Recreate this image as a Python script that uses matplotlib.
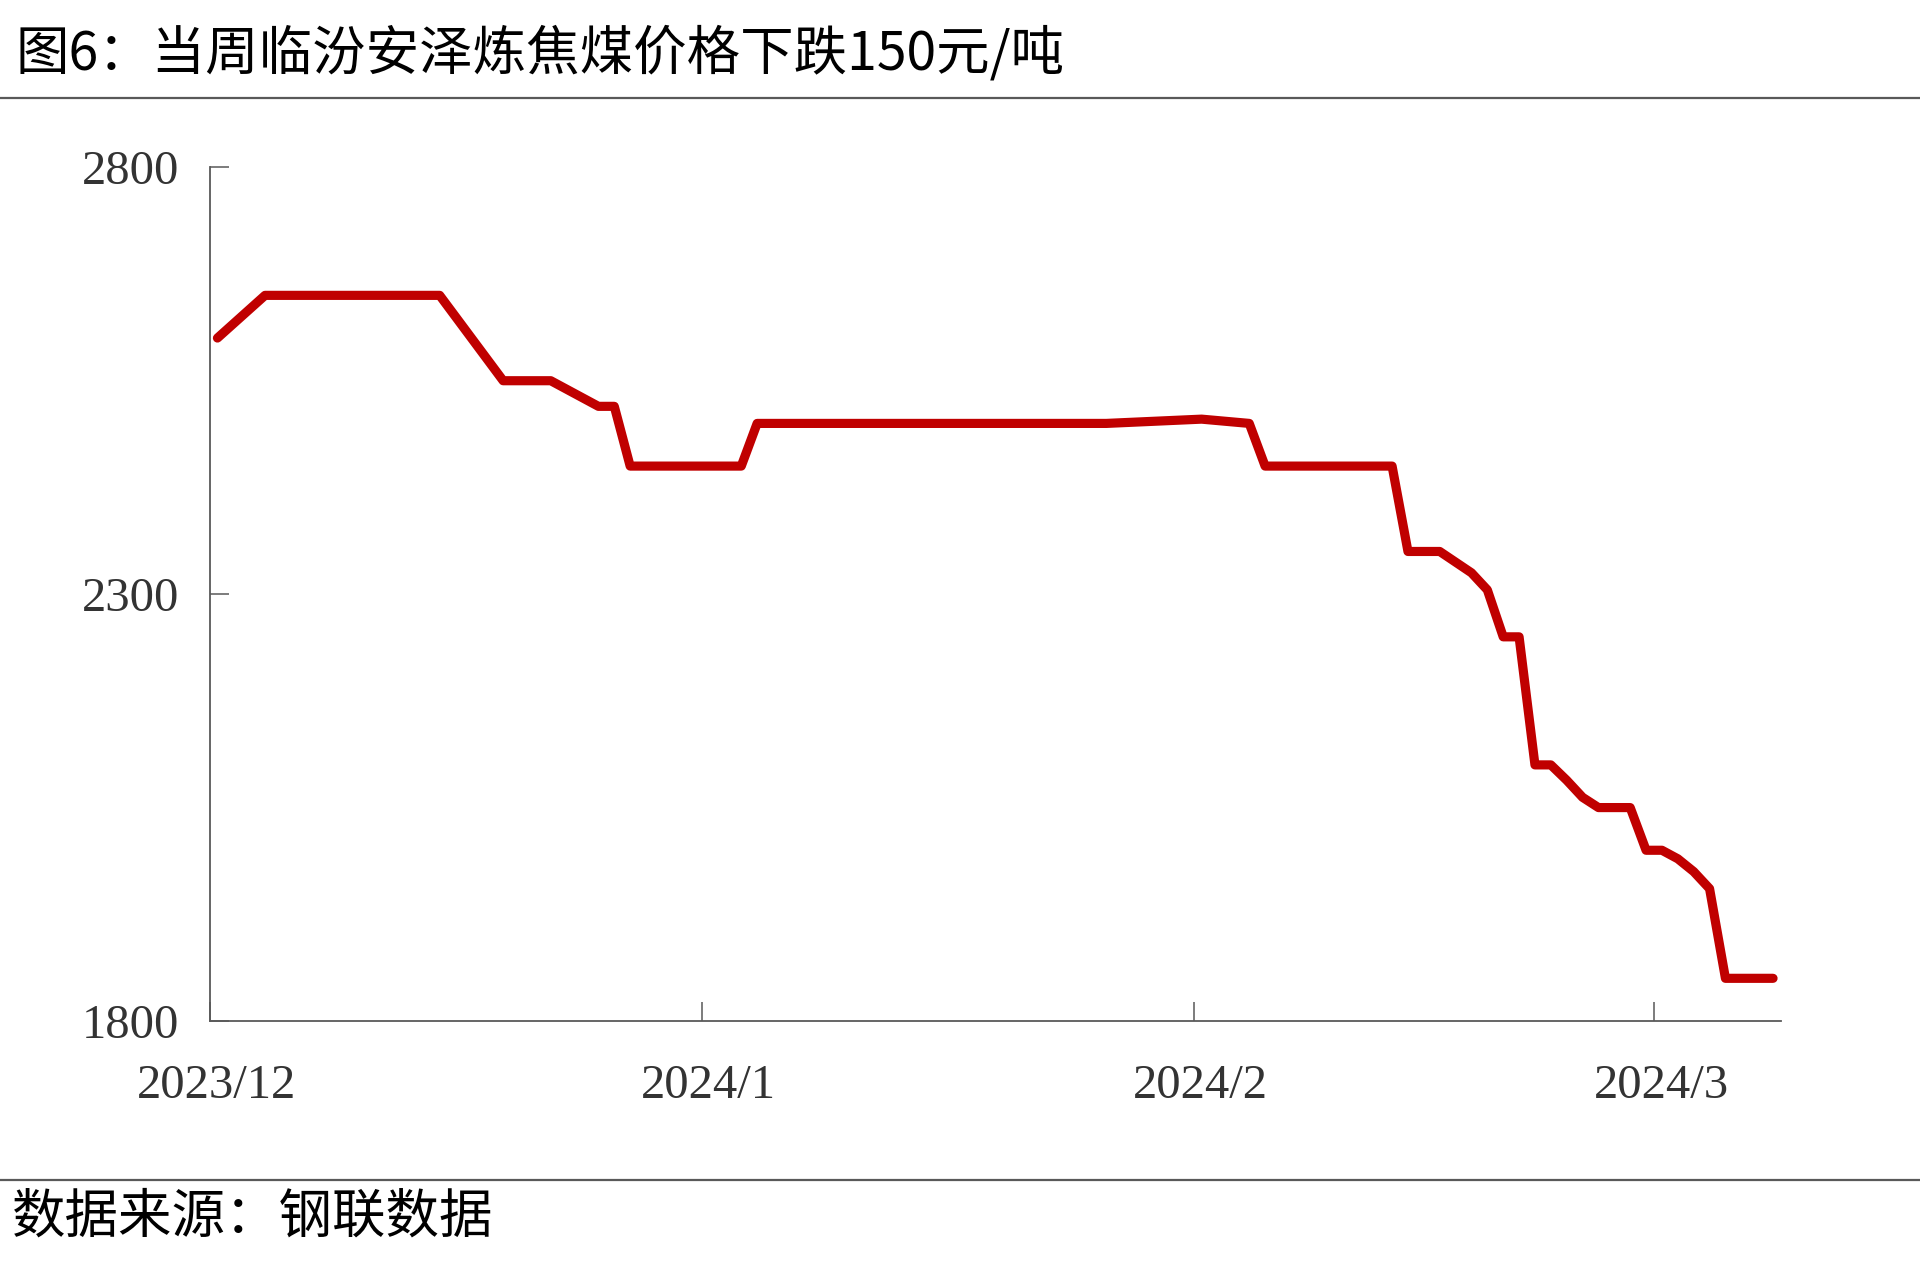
import numpy as np
import pandas as pd
import matplotlib
matplotlib.use("Agg")
import matplotlib.pyplot as plt
import matplotlib.dates as mdates
import matplotlib.transforms as mtransforms

# 临汾安泽炼焦煤价格（元/吨），读自原图
dates = ["2023-12-01", "2023-12-04", "2023-12-15", "2023-12-19", "2023-12-22",
         "2023-12-25", "2023-12-26", "2023-12-27", "2024-01-03", "2024-01-04",
         "2024-01-26", "2024-02-01", "2024-02-04", "2024-02-05", "2024-02-13",
         "2024-02-14", "2024-02-16", "2024-02-18", "2024-02-19", "2024-02-20",
         "2024-02-21", "2024-02-22", "2024-02-23", "2024-02-24", "2024-02-25",
         "2024-02-26", "2024-02-28", "2024-02-29", "2024-03-01", "2024-03-02",
         "2024-03-03", "2024-03-04", "2024-03-05", "2024-03-08"]
price = [2600, 2650, 2650, 2550, 2550,
         2520, 2520, 2450, 2450, 2500,
         2500, 2505, 2500, 2450, 2450,
         2350, 2350, 2325, 2305, 2250,
         2250, 2100, 2100, 2082, 2062,
         2050, 2050, 2000, 2000, 1990,
         1975, 1955, 1850, 1850]

y_ticks = [1800, 2300, 2800]
x_tick_dates = ["2023-12-01", "2024-01-01", "2024-02-01", "2024-03-01"]
x_tick_labels = ["2023/12", "2024/1", "2024/2", "2024/3"]

title = "图6：当周临汾安泽炼焦煤价格下跌150元/吨"
source = "数据来源：钢联数据"

cjk = ["Noto Sans CJK SC", "DejaVu Sans"]
axis_grey = "#595959"

fig = plt.figure(figsize=(19.2, 12.79), dpi=100)
ax = fig.add_axes([209.5 / 1920, 1 - 1021 / 1279, (1781 - 209.5) / 1920, (1021 - 167.3) / 1279])

# Excel 日期轴“刻度线之间”：点落在当天中间
x = pd.to_datetime(dates) + pd.Timedelta(hours=12)
ax.plot(x, price, color="#C00000", lw=6.6, solid_capstyle="round", solid_joinstyle="round")

ax.set_xlim(pd.Timestamp("2023-12-01"), pd.Timestamp("2024-03-09"))
ax.set_ylim(1800, 2800)
ax.set_yticks(y_ticks)
ax.set_xticks(pd.to_datetime(x_tick_dates))
ax.set_xticklabels(x_tick_labels)

for s in ["top", "right"]:
    ax.spines[s].set_visible(False)
for s in ["left", "bottom"]:
    ax.spines[s].set_color(axis_grey)
    ax.spines[s].set_linewidth(1.3)

ax.tick_params(axis="both", direction="in", length=13.5, width=1.1, color=axis_grey,
               labelsize=35, labelcolor="#333333")
ax.tick_params(axis="y", pad=22)
ax.tick_params(axis="x", pad=31)
for lab in ax.get_xticklabels() + ax.get_yticklabels():
    lab.set_fontfamily("Liberation Serif")
shift = mtransforms.ScaledTranslation(0.07, 0, fig.dpi_scale_trans)
for lab in ax.get_xticklabels():
    lab.set_transform(lab.get_transform() + shift)

fig.text(15 / 1920, 1 - 54 / 1279, title, family=cjk, fontsize=38.5, va="center", ha="left", color="black")
fig.text(12 / 1920, 1 - 1217 / 1279, source, family=cjk, fontsize=38.5, va="center", ha="left", color="black")

for yy in [1 - 98 / 1279, 1 - 1180 / 1279]:
    fig.add_artist(plt.Line2D([0, 1], [yy, yy], transform=fig.transFigure, color=axis_grey, lw=1.6))

fig.savefig("out.png", dpi=100)
